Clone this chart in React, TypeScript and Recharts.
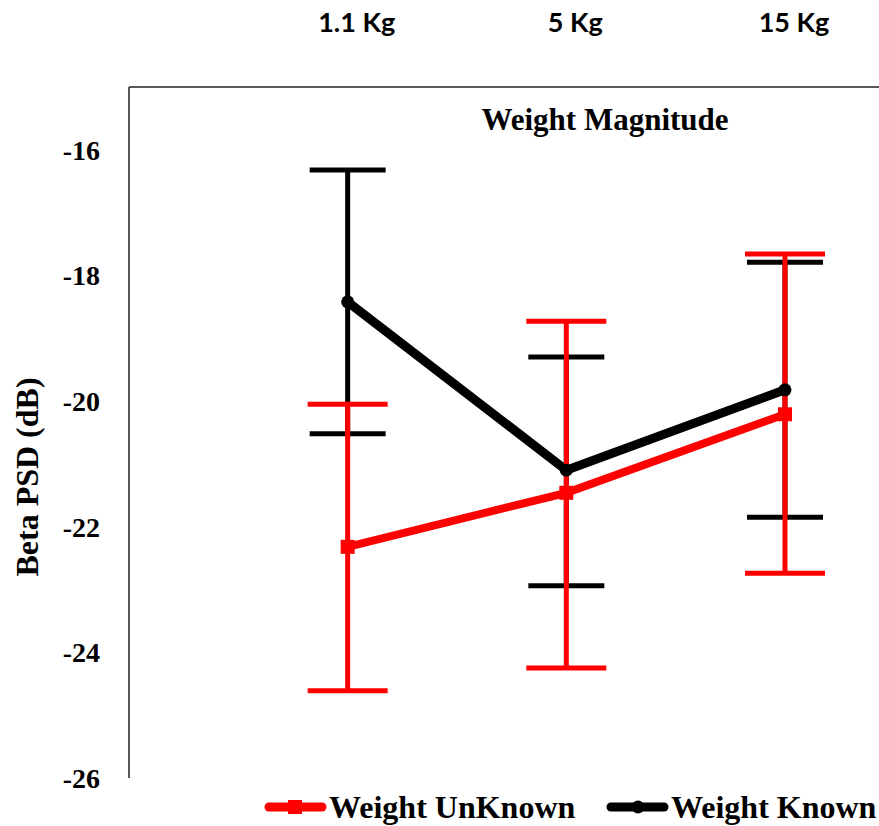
import { ComposedChart, Line, XAxis, YAxis, ErrorBar, Legend, Label } from "recharts";

// weight categories (top axis)
const categories = ["1.1 Kg", "5 Kg", "15 Kg"];

// Weight UnKnown: mean, upper and lower whisker ends (dB)
const unknownMean = [-22.32, -21.46, -20.21];
const unknownUpper = [-20.05, -18.73, -17.66];
const unknownLower = [-24.61, -24.25, -22.74];

// Weight Known
const knownMean = [-18.42, -21.1, -19.82];
const knownUpper = [-16.32, -19.3, -17.79];
const knownLower = [-20.52, -22.94, -21.85];

const yTicks = [-26, -24, -22, -20, -18, -16];

const data = categories.map((name, i) => ({
  pos: i + 1,
  name,
  unknown: unknownMean[i],
  unknownErr: [unknownMean[i] - unknownLower[i], unknownUpper[i] - unknownMean[i]],
  known: knownMean[i],
  knownErr: [knownMean[i] - knownLower[i], knownUpper[i] - knownMean[i]],
}));

const SERIF = "'Liberation Serif', 'Times New Roman', serif";

const SquareDot = (props: any) => {
  const { cx, cy } = props;
  if (cx == null || cy == null) return null;
  return <rect x={cx - 7} y={cy - 7} width={14} height={14} fill="#ff0000" />;
};

const CircleDot = (props: any) => {
  const { cx, cy } = props;
  if (cx == null || cy == null) return null;
  return <circle cx={cx} cy={cy} r={6.5} fill="#000" />;
};

const TopTick = (props: any) => {
  const { x, payload } = props;
  return (
    <text x={x + 9} y={32} textAnchor="middle" fontFamily="Lato, 'Open Sans', sans-serif" fontWeight={700} fontSize={27} fill="#000">
      {categories[payload.value - 1]}
    </text>
  );
};

const legendOrder = ["unknown", "known"];
const legendX = [265, 607];

const LegendContent = (props: any) => {
  const payload = props.payload || [];
  return (
    <svg width={879} height={41}>
      {legendOrder.map((key, i) => {
        const entry = payload.find((p: any) => p.dataKey === key);
        if (!entry) return null;
        const x = legendX[i];
        const color = entry.color;
        return (
          <g key={key}>
            <line x1={x + 4} y1={22} x2={x + 57} y2={22} stroke={color} strokeWidth={9} strokeLinecap="round" />
            {key === "unknown" ? (
              <rect x={x + 23} y={15} width={14} height={14} fill={color} />
            ) : (
              <circle cx={x + 31} cy={22} r={6.5} fill={color} />
            )}
            <text x={x + 64} y={33} fontFamily={SERIF} fontWeight={700} fontSize={32} fill="#000">
              {entry.value}
            </text>
          </g>
        );
      })}
    </svg>
  );
};

export default function App() {
  return (
    <div style={{ position: "absolute", left: 0, top: 0, width: 879, height: 826, background: "#fff" }}>
      <ComposedChart width={879} height={826} data={data} margin={{ top: 0, right: 0, bottom: 48, left: 0 }}>
        <XAxis
          dataKey="pos"
          type="number"
          orientation="top"
          domain={[0, 3.43]}
          ticks={[1, 2, 3]}
          height={87}
          axisLine={{ stroke: "#222", strokeWidth: 1.5 }}
          tickLine={false}
          tick={<TopTick />}
        >
          <Label
            content={() => (
              <text x={605} y={130} textAnchor="middle" fontFamily={SERIF} fontWeight={700} fontSize={31} fill="#000">
                Weight Magnitude
              </text>
            )}
          />
        </XAxis>
        <YAxis
          type="number"
          domain={[-26, -15]}
          ticks={yTicks}
          width={129}
          axisLine={{ stroke: "#222", strokeWidth: 1.5 }}
          tickLine={false}
          tickSize={0}
          tickMargin={29}
          tick={{ fill: "#000", fontFamily: SERIF, fontWeight: 700, fontSize: 28 }}
        >
          <Label
            content={() => (
              <text
                x={0}
                y={0}
                transform="translate(38, 477) rotate(-90)"
                textAnchor="middle"
                fontFamily={SERIF}
                fontWeight={700}
                fontSize={32}
                fill="#000"
              >
                Beta PSD (dB)
              </text>
            )}
          />
        </YAxis>
        <Line
          dataKey="known"
          name="Weight Known"
          stroke="#000"
          strokeWidth={9}
          dot={<CircleDot />}
          activeDot={false}
          isAnimationActive={false}
        >
          <ErrorBar dataKey="knownErr" direction="y" width={38} stroke="#000" strokeWidth={5} isAnimationActive={false} />
        </Line>
        <Line
          dataKey="unknown"
          name="Weight UnKnown"
          stroke="#ff0000"
          strokeWidth={8}
          dot={<SquareDot />}
          activeDot={false}
          isAnimationActive={false}
        >
          <ErrorBar dataKey="unknownErr" direction="y" width={40} stroke="#ff0000" strokeWidth={5} isAnimationActive={false} />
        </Line>
        <Legend
          verticalAlign="middle"
          align="center"
          content={<LegendContent />}
          wrapperStyle={{ top: 785, left: 0, width: 879, height: 41 }}
        />
      </ComposedChart>
    </div>
  );
}
